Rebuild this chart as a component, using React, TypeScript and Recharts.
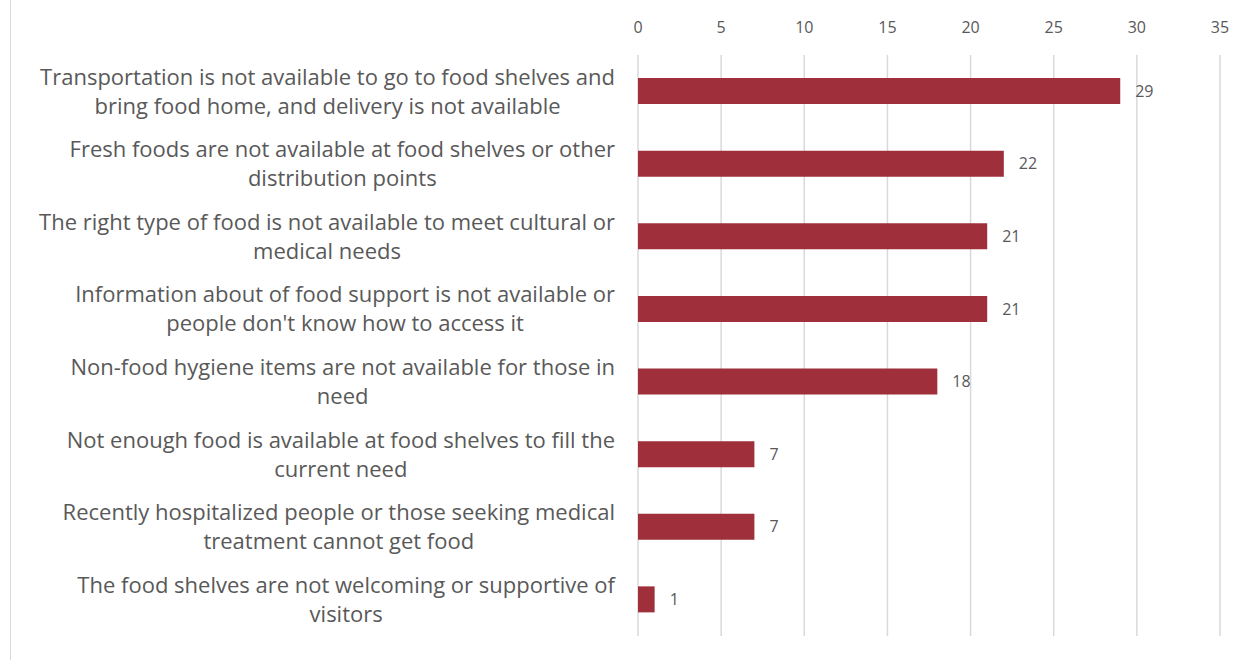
import { BarChart, Bar, XAxis, YAxis, CartesianGrid, LabelList } from 'recharts';

const categories = [
  'Transportation is not available to go to food shelves and\nbring food home, and delivery is not available',
  'Fresh foods are not available at food shelves or other\ndistribution points',
  'The right type of food is not available to meet cultural or\nmedical needs',
  "Information about of food support is not available or\npeople don't know how to access it",
  'Non-food hygiene items are not available for those in\nneed',
  'Not enough food is available at food shelves to fill the\ncurrent need',
  'Recently hospitalized people or those seeking medical\ntreatment cannot get food',
  'The food shelves are not welcoming or supportive of\nvisitors',
];
const counts = [29, 22, 21, 21, 18, 7, 7, 1];
const xTicks = [0, 5, 10, 15, 20, 25, 30, 35];

const data = categories.map((name, i) => ({ name, value: counts[i] }));

const FONT = '"Open Sans", Lato, sans-serif';
const LABEL_SIZE = 22;

let ctx: CanvasRenderingContext2D | null = null;
function measure(s: string) {
  if (!ctx) ctx = document.createElement('canvas').getContext('2d');
  if (!ctx) return s.length * 10;
  ctx.font = `${LABEL_SIZE}px ${FONT}`;
  return ctx.measureText(s).width;
}

// Excel-style: lines centered on each other, block right-aligned to the axis
function CategoryTick(props: any) {
  const { x, y, payload } = props;
  const lines: string[] = String(payload.value).split('\n');
  const w = Math.max(...lines.map(measure));
  const cx = x - 17 - w / 2;
  const lh = 29;
  const start = y - ((lines.length - 1) * lh) / 2;
  return (
    <text textAnchor="middle" fill="#595959" fontSize={LABEL_SIZE} fontFamily={FONT}>
      {lines.map((l, i) => (
        <tspan key={i} x={cx} y={start + i * lh} dy="0.35em">
          {l}
        </tspan>
      ))}
    </text>
  );
}

function ValueTick(props: any) {
  const { x, payload } = props;
  return (
    <text x={x} y={27} dy="0.35em" textAnchor="middle" fill="#595959" fontSize={16} fontFamily={FONT}>
      {payload.value}
    </text>
  );
}

export default function App() {
  return (
    <div style={{ position: 'absolute', left: 0, top: 0, width: 1240, height: 660, background: '#fff' }}>
      <div style={{ position: 'absolute', left: 10, top: 0, width: 1, height: 660, background: '#d9d9d9' }} />
      <BarChart
        layout="vertical"
        width={1240}
        height={660}
        data={data}
        margin={{ top: 15, right: 20, bottom: 24, left: 0 }}
        barCategoryGap={0}
      >
        <CartesianGrid horizontal={false} vertical stroke="#d9d9d9" strokeWidth={1.5} />
        <XAxis
          type="number"
          orientation="top"
          domain={[0, 35]}
          ticks={xTicks}
          axisLine={false}
          tickLine={false}
          height={40}
          tick={<ValueTick />}
          interval={0}
        />
        <YAxis
          type="category"
          dataKey="name"
          width={638}
          axisLine={false}
          tickLine={false}
          tickMargin={0}
          tick={<CategoryTick />}
          interval={0}
        />
        <Bar dataKey="value" fill="#9E2F3B" barSize={26} isAnimationActive={false}>
          <LabelList dataKey="value" position="right" offset={15} fill="#595959" fontSize={16} fontFamily={FONT} />
        </Bar>
      </BarChart>
    </div>
  );
}
